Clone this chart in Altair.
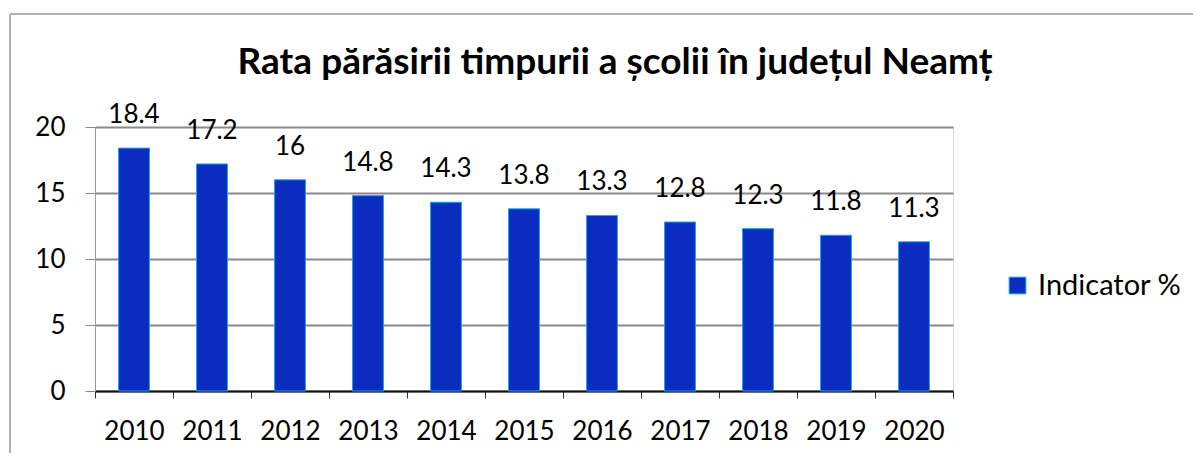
import altair as alt
import pandas as pd

years = ["2010", "2011", "2012", "2013", "2014", "2015", "2016", "2017", "2018", "2019", "2020"]
values = [18.4, 17.2, 16, 14.8, 14.3, 13.8, 13.3, 12.8, 12.3, 11.8, 11.3]
labels = ["18.4", "17.2", "16", "14.8", "14.3", "13.8", "13.3", "12.8", "12.3", "11.8", "11.3"]
series = "Indicator %"
title = "Rata părăsirii timpurii a școlii în județul Neamț"

df = pd.DataFrame({"year": years, "value": values, "label": labels, "series": [series] * len(years)})

FONT = "Lato"

base = alt.Chart(df)

bars = base.mark_bar(size=31, stroke="#19a6f0", strokeWidth=1).encode(
    x=alt.X("year:N", title=None, sort=years,
            scale=alt.Scale(paddingInner=0, paddingOuter=0),
            axis=alt.Axis(labelAngle=0, labelFontSize=26, labelColor="#000", labelFont=FONT,
                          labelPadding=20, domainColor="#111", domainWidth=2,
                          ticks=True, tickColor="#333", tickSize=7, tickBand="extent", grid=False)),
    y=alt.Y("value:Q", title=None, scale=alt.Scale(domain=[0, 20], nice=False),
            axis=alt.Axis(values=[0, 5, 10, 15, 20], labelFontSize=26, labelColor="#000", labelFont=FONT,
                          labelPadding=20, domainColor="#999", tickColor="#888", tickSize=10,
                          grid=True, gridColor="#8a8a8a", gridWidth=2)),
    fill=alt.Fill("series:N", scale=alt.Scale(range=["#0a2cbf"]),
                  legend=alt.Legend(title=None, orient="none", legendX=908, legendY=144,
                                    symbolType="square", symbolSize=280, labelFontSize=29,
                                    labelFont=FONT, labelColor="#000", symbolStrokeColor="#19a6f0",
                                    symbolStrokeWidth=1, labelOffset=6)),
)

text = base.mark_text(baseline="bottom", dy=-20, fontSize=26, font=FONT, color="#000").encode(
    x=alt.X("year:N", sort=years),
    y="value:Q",
    text="label:N",
)

title_mark = alt.Chart(pd.DataFrame({"t": [title]})).mark_text(
    fontSize=37, font=FONT, fontWeight="bold", color="#000", align="center", baseline="alphabetic"
).encode(x=alt.value(520), y=alt.value(-53), text="t:N")

frame_top = alt.Chart(pd.DataFrame({"a": [0]})).mark_rule(stroke="#b0b0b0", strokeWidth=2).encode(
    x=alt.value(-85), x2=alt.value(1108), y=alt.value(-113)
)
frame_left = alt.Chart(pd.DataFrame({"a": [0]})).mark_rule(stroke="#b0b0b0", strokeWidth=2).encode(
    x=alt.value(-85), y=alt.value(-113), y2=alt.value(338)
)

chart = alt.layer(frame_top, frame_left, title_mark, bars, text).properties(
    width=858, height=264,
    autosize=alt.AutoSizeParams(type="none"),
    padding={"left": 87, "top": 119, "right": 240, "bottom": 62},
).configure_view(stroke=None).configure(background="white")

chart.save("out.html", embed_options={"renderer": "svg", "actions": False})
